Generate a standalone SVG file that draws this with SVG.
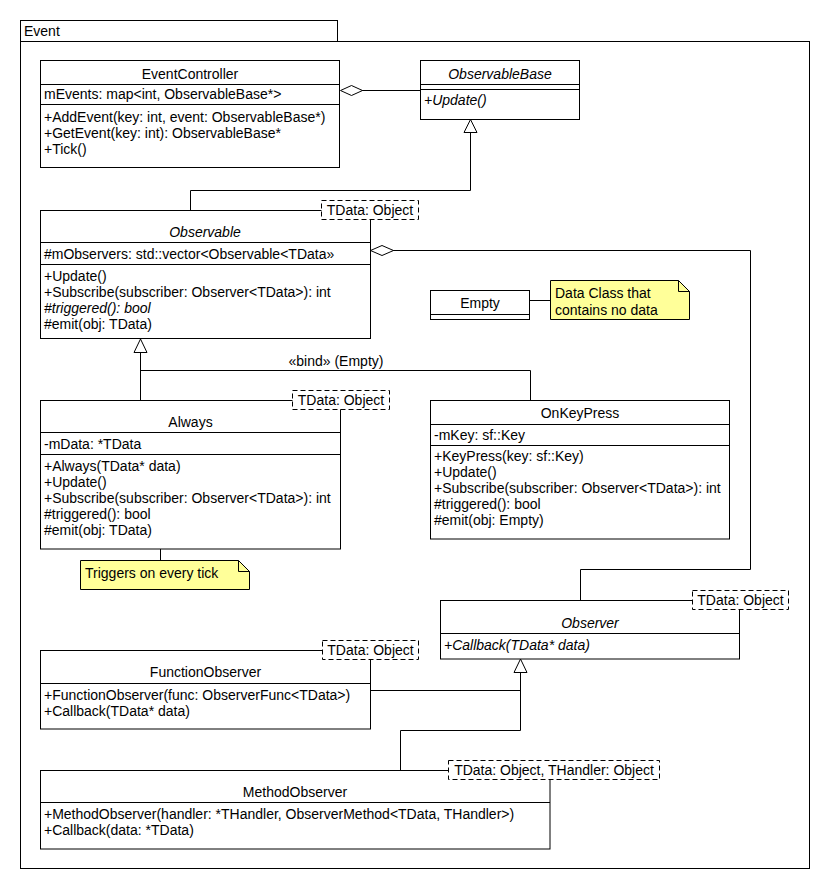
<svg xmlns="http://www.w3.org/2000/svg" width="830" height="890" viewBox="0 0 830 890">
<style>
  text { font-family: "Liberation Sans", Arial, sans-serif; font-size: 14px; fill: #000; }
  .c { text-anchor: middle; }
  .i { font-style: italic; }
  .box { fill: #fff; stroke: #000; stroke-width: 1; }
  .tpl { fill: #fff; stroke: #000; stroke-width: 1; stroke-dasharray: 5,3; }
  .note { fill: #ffff99; stroke: #000; stroke-width: 1; }
  .ln { fill: none; stroke: #000; stroke-width: 1; }
  .hollow { fill: #fff; stroke: #000; stroke-width: 1; }
</style>
<rect width="830" height="890" fill="#fff"/>

<g id="package-event">
  <rect class="box" x="20.5" y="20.5" width="317" height="21"/>
  <rect class="box" x="20.5" y="41.5" width="789" height="827"/>
  <text x="24" y="36">Event</text>
</g>

<g id="connectors">
  <!-- EventController aggregation ObservableBase -->
  <line class="ln" x1="362" y1="90.5" x2="420.5" y2="90.5"/>
  <polygon class="hollow" points="340.5,90.5 351.5,85.5 362.5,90.5 351.5,95.5"/>
  <!-- Observable generalization ObservableBase -->
  <polyline class="ln" points="190.5,210.5 190.5,190.5 470.5,190.5 470.5,132.5"/>
  <polygon class="hollow" points="470.5,119.5 464,132.5 477,132.5"/>
  <!-- Observable aggregation Observer -->
  <polyline class="ln" points="393,250.5 750.5,250.5 750.5,569.5 580.5,569.5 580.5,600.5"/>
  <polygon class="hollow" points="370.5,250.5 382,245.5 393.5,250.5 382,255.5"/>
  <!-- Always generalization Observable, OnKeyPress bind -->
  <line class="ln" x1="140.5" y1="352.5" x2="140.5" y2="400.5"/>
  <polyline class="ln" points="140.5,370.5 530.5,370.5 530.5,400.5"/>
  <polygon class="hollow" points="140.5,339 134,352.5 147,352.5"/>
  <text class="c" x="336" y="366">«bind» (Empty)</text>
  <!-- Empty to note -->
  <line class="ln" x1="529.5" y1="300.5" x2="550.5" y2="300.5"/>
  <!-- Always to note -->
  <line class="ln" x1="160.5" y1="549" x2="160.5" y2="560.5"/>
  <!-- Observers generalization Observer -->
  <line class="ln" x1="370.5" y1="690.5" x2="520.5" y2="690.5"/>
  <polyline class="ln" points="520.5,672.5 520.5,730.5 400.5,730.5 400.5,770.5"/>
  <polygon class="hollow" points="520.5,659 514,672.5 527,672.5"/>
</g>

<g id="EventController">
  <rect class="box" x="40.5" y="60.5" width="299" height="107"/>
  <line class="ln" x1="40.5" y1="84.5" x2="339.5" y2="84.5"/>
  <line class="ln" x1="40.5" y1="104.5" x2="339.5" y2="104.5"/>
  <text class="c" x="190" y="79">EventController</text>
  <text x="44" y="99">mEvents: map&lt;int, ObservableBase*&gt;</text>
  <text x="44" y="122">+AddEvent(key: int, event: ObservableBase*)</text>
  <text x="44" y="138">+GetEvent(key: int): ObservableBase*</text>
  <text x="44" y="154">+Tick()</text>
</g>

<g id="ObservableBase">
  <rect class="box" x="420.5" y="60.5" width="159" height="59"/>
  <line class="ln" x1="420.5" y1="84.5" x2="579.5" y2="84.5"/>
  <line class="ln" x1="420.5" y1="89.5" x2="579.5" y2="89.5"/>
  <text class="c i" x="500" y="79">ObservableBase</text>
  <text class="i" x="424" y="105">+Update()</text>
</g>

<g id="Observable">
  <rect class="box" x="40.5" y="210.5" width="330" height="128"/>
  <line class="ln" x1="40.5" y1="242.5" x2="370.5" y2="242.5"/>
  <line class="ln" x1="40.5" y1="264.5" x2="370.5" y2="264.5"/>
  <rect class="tpl" x="321.5" y="200.5" width="97" height="19"/>
  <text class="c" x="370" y="215">TData: Object</text>
  <text class="c i" x="205" y="237">Observable</text>
  <text x="44" y="259">#mObservers: std::vector&lt;Observable&lt;TData»</text>
  <text x="44" y="281">+Update()</text>
  <text x="44" y="297">+Subscribe(subscriber: Observer&lt;TData&gt;): int</text>
  <text class="i" x="44" y="313">#triggered(): bool</text>
  <text x="44" y="329">#emit(obj: TData)</text>
</g>

<g id="Empty">
  <rect class="box" x="430.5" y="290.5" width="99" height="29"/>
  <line class="ln" x1="430.5" y1="314.5" x2="529.5" y2="314.5"/>
  <text class="c" x="480" y="308">Empty</text>
</g>

<g id="note-empty">
  <polygon class="note" points="550.5,280.5 678.5,280.5 689.5,291.5 689.5,319.5 550.5,319.5"/>
  <polyline class="ln" points="678.5,280.5 678.5,291.5 689.5,291.5"/>
  <text x="555" y="298">Data Class that</text>
  <text x="555" y="315">contains no data</text>
</g>

<g id="Always">
  <rect class="box" x="40.5" y="400.5" width="300" height="148.5"/>
  <line class="ln" x1="40.5" y1="432.5" x2="340.5" y2="432.5"/>
  <line class="ln" x1="40.5" y1="454.5" x2="340.5" y2="454.5"/>
  <rect class="tpl" x="292.5" y="390.5" width="97" height="19"/>
  <text class="c" x="341" y="405">TData: Object</text>
  <text class="c" x="190.5" y="427">Always</text>
  <text x="44" y="449">-mData: *TData</text>
  <text x="44" y="471">+Always(TData* data)</text>
  <text x="44" y="487">+Update()</text>
  <text x="44" y="503">+Subscribe(subscriber: Observer&lt;TData&gt;): int</text>
  <text x="44" y="519">#triggered(): bool</text>
  <text x="44" y="535">#emit(obj: TData)</text>
</g>

<g id="note-always">
  <polygon class="note" points="80.5,560.5 238.5,560.5 249.5,571.5 249.5,589.5 80.5,589.5"/>
  <polyline class="ln" points="238.5,560.5 238.5,571.5 249.5,571.5"/>
  <text x="85" y="578">Triggers on every tick</text>
</g>

<g id="OnKeyPress">
  <rect class="box" x="430.5" y="400.5" width="299" height="138.5"/>
  <line class="ln" x1="430.5" y1="424.5" x2="729.5" y2="424.5"/>
  <line class="ln" x1="430.5" y1="445.5" x2="729.5" y2="445.5"/>
  <text class="c" x="580" y="418">OnKeyPress</text>
  <text x="434" y="440">-mKey: sf::Key</text>
  <text x="434" y="461">+KeyPress(key: sf::Key)</text>
  <text x="434" y="477">+Update()</text>
  <text x="434" y="493">+Subscribe(subscriber: Observer&lt;TData&gt;): int</text>
  <text x="434" y="509">#triggered(): bool</text>
  <text x="434" y="525">#emit(obj: Empty)</text>
</g>

<g id="Observer">
  <rect class="box" x="440.5" y="600.5" width="299" height="58.5"/>
  <line class="ln" x1="440.5" y1="633.5" x2="739.5" y2="633.5"/>
  <rect class="tpl" x="692.5" y="590.5" width="96" height="19"/>
  <text class="c" x="740.5" y="605">TData: Object</text>
  <text class="c i" x="590" y="628">Observer</text>
  <text class="i" x="444" y="650">+Callback(TData* data)</text>
</g>

<g id="FunctionObserver">
  <rect class="box" x="40.5" y="650.5" width="330" height="78.5"/>
  <line class="ln" x1="40.5" y1="683.5" x2="370.5" y2="683.5"/>
  <rect class="tpl" x="322.5" y="640.5" width="96" height="19"/>
  <text class="c" x="370.5" y="655">TData: Object</text>
  <text class="c" x="205.5" y="677">FunctionObserver</text>
  <text x="44" y="700">+FunctionObserver(func: ObserverFunc&lt;TData&gt;)</text>
  <text x="44" y="716">+Callback(TData* data)</text>
</g>

<g id="MethodObserver">
  <rect class="box" x="40.5" y="770.5" width="509.5" height="78.5"/>
  <line class="ln" x1="40.5" y1="802.5" x2="550" y2="802.5"/>
  <rect class="tpl" x="448.5" y="760.5" width="211" height="19"/>
  <text class="c" x="554" y="775">TData: Object, THandler: Object</text>
  <text class="c" x="295" y="797">MethodObserver</text>
  <text x="44" y="819">+MethodObserver(handler: *THandler, ObserverMethod&lt;TData, THandler&gt;)</text>
  <text x="44" y="835">+Callback(data: *TData)</text>
</g>
</svg>
